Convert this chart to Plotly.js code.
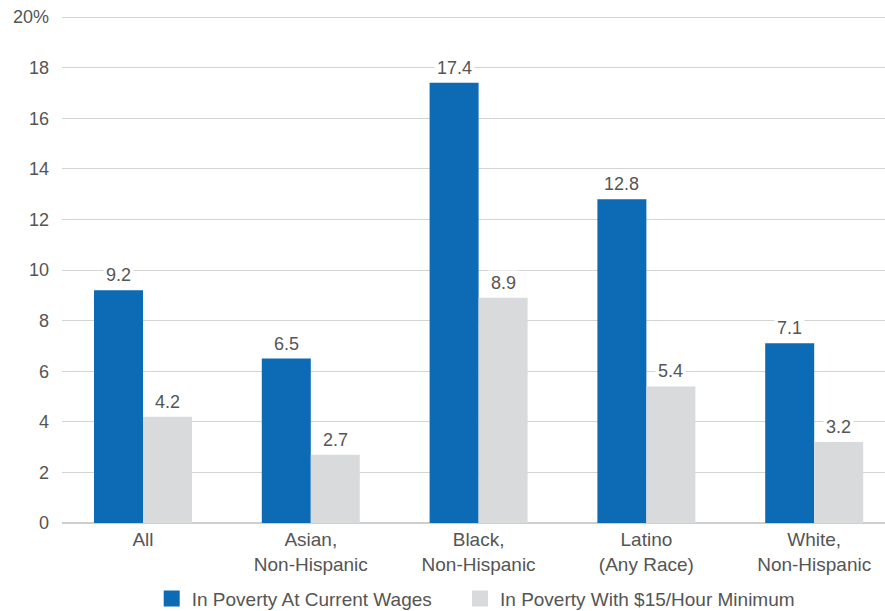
<!DOCTYPE html>
<html>
<head>
<meta charset="utf-8">
<script src="https://cdn.plot.ly/plotly-3.0.1.min.js"></script>
<style>html,body{margin:0;padding:0;background:#fff;}#chart{width:885px;height:611px;}</style>
</head>
<body>
<div id="chart"></div>
<script>
const categories = ["All", "Asian,<br>Non-Hispanic", "Black,<br>Non-Hispanic", "Latino<br>(Any Race)", "White,<br>Non-Hispanic"];
const currentWages = [9.2, 6.5, 17.4, 12.8, 7.1];
const minWage15 = [4.2, 2.7, 8.9, 5.4, 3.2];
const seriesNames = ["In Poverty At Current Wages", "In Poverty With $15/Hour Minimum"];
const yTickVals = [0, 2, 4, 6, 8, 10, 12, 14, 16, 18, 20];
const yTickText = ["0", "2", "4", "6", "8", "10", "12", "14", "16", "18", "20%"];

const BLUE = "#0d6ab5", GRAY = "#d9dadc", TXT = "#555555";
const FONT = "Liberation Sans, Arial, Helvetica, sans-serif";

const traces = [
  {type: "bar", x: categories, y: currentWages, name: seriesNames[0], marker: {color: BLUE}, hoverinfo: "skip", showlegend: false},
  {type: "bar", x: categories, y: minWage15, name: seriesNames[1], marker: {color: GRAY}, hoverinfo: "skip", showlegend: false},
  // legend-only entries with larger square swatches
  {type: "scatter", mode: "markers", x: [null], y: [null], name: seriesNames[0], legend: "legend",
   marker: {symbol: "square", size: 22, color: BLUE}, hoverinfo: "skip"},
  {type: "scatter", mode: "markers", x: [null], y: [null], name: seriesNames[1], legend: "legend2",
   marker: {symbol: "square", size: 22, color: GRAY}, hoverinfo: "skip"}
];

const annotations = [];
[[currentWages, -24.5], [minWage15, 24.5]].forEach(([vals, shift]) => {
  vals.forEach((v, i) => {
    annotations.push({
      x: categories[i], y: v, xref: "x", yref: "y",
      text: v.toFixed(1), showarrow: false, yanchor: "bottom", xshift: shift, yshift: 2,
      bgcolor: "#ffffff", borderpad: 2,
      font: {family: FONT, size: 18, color: TXT}
    });
  });
});

const legendBase = {orientation: "h", xanchor: "left", y: -0.149, yanchor: "middle",
                    font: {family: FONT, size: 19, color: TXT}, itemsizing: "trace", bgcolor: "rgba(0,0,0,0)"};

const layout = {
  width: 885, height: 611,
  margin: {l: 62, r: 0, t: 16, b: 88, autoexpand: false},
  paper_bgcolor: "#ffffff", plot_bgcolor: "#ffffff",
  font: {family: FONT, size: 19, color: TXT},
  barmode: "group", bargap: 0.416, bargroupgap: 0,
  showlegend: true,
  legend: Object.assign({}, legendBase, {x: 0.109}),
  legend2: Object.assign({}, legendBase, {x: 0.4836}),
  xaxis: {type: "category", range: [-0.4827, 4.422], showgrid: false, zeroline: false, automargin: false,
          showline: false, ticks: "", ticklabelstandoff: 3, tickfont: {family: FONT, size: 19, color: TXT}},
  yaxis: {range: [0, 20.04], tickvals: yTickVals, ticktext: yTickText, showgrid: true, automargin: false,
          gridcolor: "#d4d4d4", gridwidth: 1, zeroline: true, zerolinecolor: "#cfcfcf", zerolinewidth: 2,
          showline: false, ticks: "", ticklabelstandoff: 12,
          tickfont: {family: FONT, size: 18, color: TXT}},
  annotations: annotations
};

Plotly.newPlot("chart", traces, layout, {displayModeBar: false, staticPlot: true});
</script>
</body>
</html>
